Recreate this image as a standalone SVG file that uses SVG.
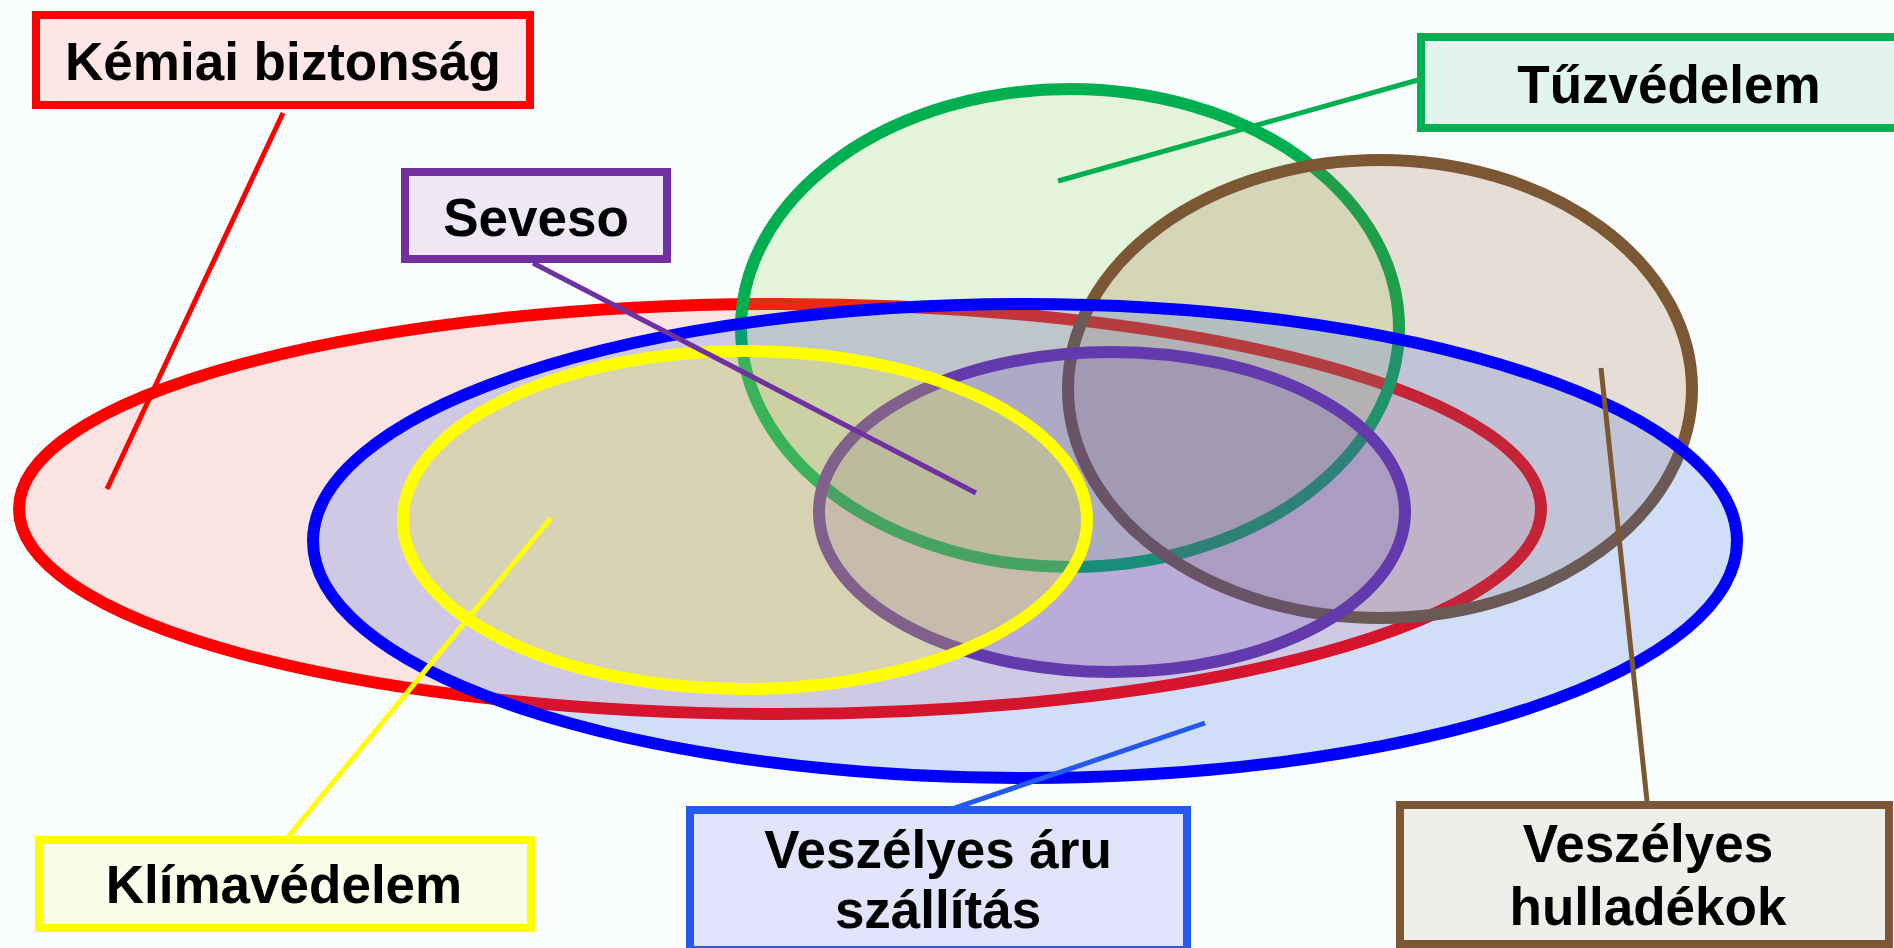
<svg xmlns="http://www.w3.org/2000/svg" width="1894" height="948" viewBox="0 0 1894 948">
<style>
.lbl{font-family:"Liberation Sans",Arial,sans-serif;font-weight:bold;font-size:53px;fill:#000;text-anchor:middle}
.box{stroke-width:8}
.ring{stroke-width:12}
.conn{stroke-width:5;fill:none}
</style>
<rect width="1894" height="948" fill="#f9fdfd"/>
<g id="venn">
  <ellipse id="e-kemiai" class="ring" cx="780" cy="509" rx="761" ry="205" fill="#ff0000" fill-opacity="0.1" stroke="#ff0000"/>
  <ellipse id="e-tuz" class="ring" cx="1070" cy="328" rx="329" ry="239" fill="#92d050" fill-opacity="0.2" stroke="#00b050"/>
  <ellipse id="e-hulladek" class="ring" cx="1380" cy="389" rx="312" ry="229" fill="#9a5d30" fill-opacity="0.2" stroke="#7b5733"/>
  <ellipse id="e-seveso" class="ring" cx="1112" cy="512" rx="293" ry="160" fill="#7030a0" fill-opacity="0.2" stroke="#7030a0"/>
  <ellipse id="e-aru" class="ring" cx="1025" cy="541" rx="712" ry="237" fill="#2c62e6" fill-opacity="0.2" stroke="#0000ff" stroke-opacity="1"/>
  <ellipse id="e-klima" class="ring" cx="745" cy="520" rx="342" ry="169" fill="#ffff00" fill-opacity="0.2" stroke="#ffff00"/>
</g>
<g id="connectors">
  <line class="conn" x1="283" y1="113" x2="107" y2="489" stroke="#ff0000"/>
  <line class="conn" x1="533" y1="263" x2="976" y2="493" stroke="#7030a0"/>
  <line class="conn" x1="1418" y1="80" x2="1058" y2="181" stroke="#00b050"/>
  <line class="conn" x1="1601" y1="368" x2="1647" y2="801" stroke="#7b5733"/>
  <line class="conn" x1="551" y1="518" x2="288" y2="837" stroke="#ffff00"/>
  <line class="conn" x1="1205" y1="723" x2="937" y2="814" stroke="#2459ee"/>
</g>
<g id="kemiai">
  <rect class="box" x="36" y="15" width="494" height="90" fill="#fce6e6" stroke="#ff0000"/>
  <text class="lbl" x="283" y="80">Kémiai biztonság</text>
</g>
<g id="seveso">
  <rect class="box" x="405" y="172" width="262" height="87" fill="#ede8f4" stroke="#7030a0"/>
  <text class="lbl" x="536" y="236">Seveso</text>
</g>
<g id="tuzvedelem">
  <rect class="box" x="1421" y="37" width="480" height="91" fill="#e2f5ec" stroke="#00b050"/>
  <text class="lbl" x="1669" y="103">Tűzvédelem</text>
</g>
<g id="klimavedelem">
  <rect class="box" x="39" y="840" width="492" height="88" fill="#fafde8" stroke="#ffff00"/>
  <text class="lbl" x="284" y="903">Klímavédelem</text>
</g>
<g id="veszelyes-aru">
  <rect class="box" x="690" y="810" width="497" height="140" fill="#e1e4fb" stroke="#2459ee"/>
  <text class="lbl" x="938" y="868">Veszélyes áru</text>
  <text class="lbl" x="938" y="928">szállítás</text>
</g>
<g id="veszelyes-hulladekok">
  <rect class="box" x="1400" y="805" width="489" height="139" fill="#eeeeea" stroke="#7b5733"/>
  <text class="lbl" x="1648" y="862">Veszélyes</text>
  <text class="lbl" x="1648" y="925">hulladékok</text>
</g>
</svg>
